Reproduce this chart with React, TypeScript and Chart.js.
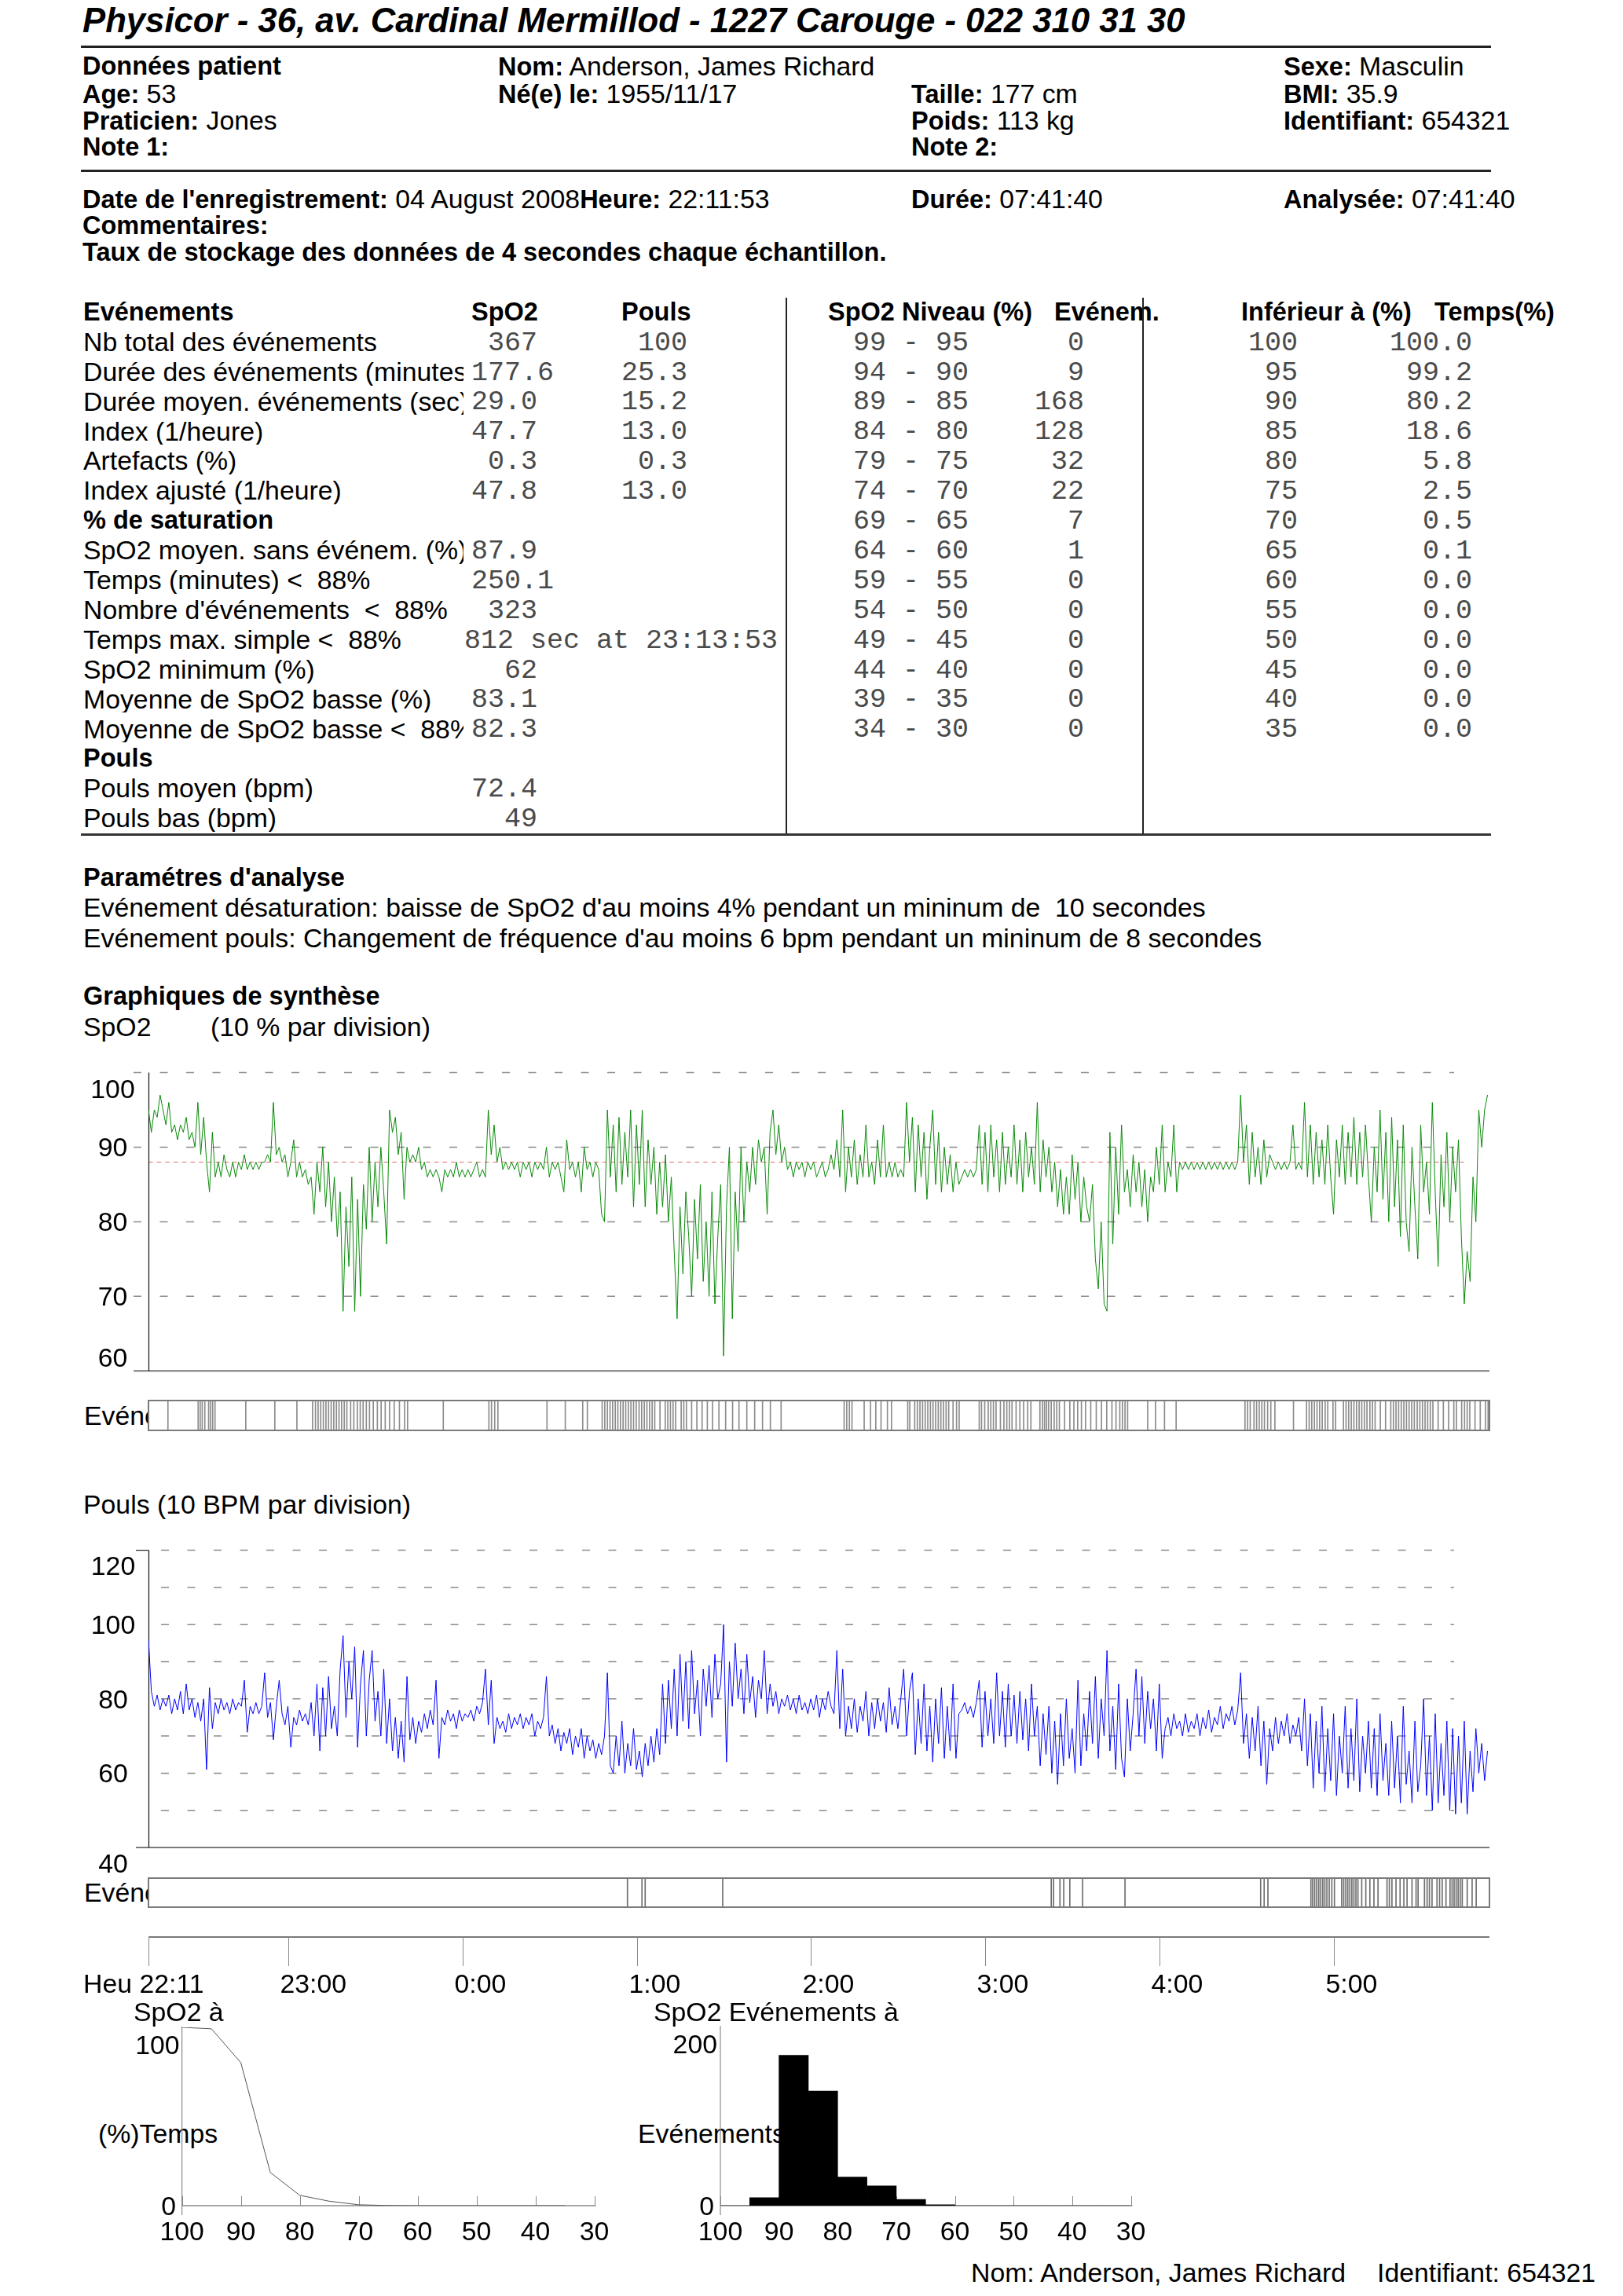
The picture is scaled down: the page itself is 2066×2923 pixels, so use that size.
import React, { useEffect, useRef } from "react";
import { Chart, registerables } from "chart.js";

Chart.register(...registerables);

const SANS = '"Liberation Sans", Arial, Helvetica, sans-serif';
const MONO = '"Liberation Mono", "Courier New", monospace';

// ---------------- recording ----------------
const startClock = "22:11:53";
const durationClock = "07:41:40";

// ---------------- SpO2 trend (%), one reading per minute, by hour ----------------
const spo2Hour1 = [95,92,95,94,97,95,93,96,92,93, 91,93,92,94,91,92,90,96,89,94, 88,84,92,86,88,86,89,87,86,88, 86,88,87,89,87,88,87,88,87,88, 88,89,88,96,89,90,88,89,86,88, 91,86,88,86,87,85,86,81,88,84];
const spo2Hour2 = [90,82,88,80,86,78,84,68,82,74, 86,68,83,70,85,79,90,80,88,82, 90,84,77,95,92,94,89,92,83,90, 88,89,88,90,87,88,86,87,86,87, 86,84,87,86,87,86,88,86,87,86, 87,86,87,88,86,87,86,95,89,93];
const spo2Hour3 = [88,90,87,88,87,88,87,88,86,88, 87,88,86,88,87,88,87,90,86,88, 87,88,86,84,91,87,88,86,88,84, 90,87,88,86,88,87,81,80,95,86, 93,84,94,85,92,86,95,82,93,85, 95,82,91,85,90,81,88,82,89,80];
const spo2Hour4 = [86,76,67,82,73,84,78,70,83,75, 85,72,80,70,84,69,78,85,62,82, 90,67,84,76,90,80,88,84,90,85, 91,88,90,81,92,95,89,93,88,90, 87,88,86,88,87,88,86,88,87,88, 86,87,88,86,87,89,87,91,86,95];
const spo2Hour5 = [84,90,86,91,85,89,86,93,86,88, 85,91,86,93,86,88,86,88,86,87, 86,96,88,94,84,93,86,92,83,90, 95,85,92,84,90,85,89,84,88,85, 86,87,86,87,86,87,93,85,92,84, 93,86,91,84,92,85,90,86,93,85];
const spo2Hour6 = [91,84,92,86,90,85,96,84,91,86, 90,84,88,82,87,81,86,81,89,83, 88,80,86,82,80,85,75,71,80,69, 68,92,77,90,81,93,84,87,82,89, 84,88,82,87,80,86,84,90,85,93, 84,88,86,93,84,88,87,88,87,88];
const spo2Hour7 = [87,88,87,88,87,88,87,88,87,88, 87,88,87,88,87,88,97,88,93,85, 92,86,90,85,91,86,89,88,87,88, 87,88,87,88,93,87,88,87,96,86, 93,85,92,86,91,85,93,86,81,91, 86,93,85,92,86,94,85,92,86,93];
const spo2Hour8 = [86,80,90,84,95,83,92,80,94,82, 91,78,93,80,76,90,82,75,93,84, 88,81,96,84,74,89,82,92,80,90, 84,91,78,69,76,72,86,80,95,90, 95,97];

// ---------------- Pulse trend (bpm), one reading per minute, by hour ----------------
const pulseHour1 = [96,82,78,81,77,80,78,81,76,80, 77,82,76,84,77,80,75,79,74,80, 61,83,72,79,76,80,77,79,76,80, 77,79,78,85,71,78,76,79,76,78, 87,75,79,69,78,85,76,73,78,67, 75,73,77,74,76,73,79,70,84,66];
const pulseHour2 = [83,70,86,72,78,70,88,97,75,90, 80,94,67,84,93,70,85,93,74,82, 70,88,68,80,66,75,64,74,63,86, 69,75,68,74,71,76,72,77,73,85, 64,75,73,77,74,76,72,77,74,76, 75,77,74,78,76,79,88,73,85,68];
const pulseHour3 = [75,72,74,71,76,72,75,73,76,72, 75,73,76,70,74,72,75,86,70,73, 68,72,66,71,68,72,65,70,67,72, 64,70,66,69,64,68,65,70,87,62, 60,70,62,74,60,68,62,72,61,66, 59,68,62,70,63,72,65,84,68,85];
const pulseHour4 = [72,88,70,92,74,90,72,93,76,85, 70,88,78,89,75,92,80,84,100,63, 90,78,95,80,88,76,92,79,86,75, 85,80,93,76,84,78,82,76,80,78, 81,77,80,76,81,77,79,76,80,77, 81,75,80,77,82,78,76,93,72,88];
const pulseHour5 = [70,78,72,80,71,78,74,82,70,79, 72,80,74,79,71,83,73,78,72,80, 88,70,82,87,65,80,68,84,66,78, 63,80,68,83,64,78,66,84,64,76, 77,79,76,78,75,79,85,67,82,70, 80,68,87,70,82,67,84,70,81,68];
const pulseHour6 = [82,69,80,66,84,70,78,62,76,65, 78,60,74,57,76,62,80,64,72,60, 85,62,76,66,82,68,86,64,80,70, 93,66,78,61,84,64,59,80,66,76, 88,70,86,68,82,72,80,66,84,64, 72,75,70,76,72,74,70,76,71,74];
const pulseHour7 = [72,76,70,75,72,77,71,75,73,78, 72,76,74,78,73,77,87,68,76,64, 75,66,78,62,74,57,72,66,75,68, 74,70,76,68,73,70,75,66,80,62, 76,56,74,60,78,55,72,58,76,54, 70,60,78,56,72,58,80,55,70,60];
const pulseHour8 = [74,56,72,54,76,58,68,54,74,56, 70,52,78,57,66,52,74,55,62,80, 54,70,50,76,52,68,54,74,50,72, 49,70,52,74,49,66,55,72,60,68, 58,66];

// ---------------- events (minutes from start of recording) ----------------
const spo2EventMinutes = [6.7,17.1,17.8,18.5,19.4,20.7,21.4,22.1,22.9,33.5,43.5,51.1,56.5,57.5,58.4,59.3,60.2,61.1,62.0,62.9,63.8,64.7,65.6,66.5,67.4,68.3,69.6,70.7,71.9,72.9,73.9,75.0,76.1,77.4,78.8,80.1,81.5,83.0,84.6,86.4,88.2,89.2,101.5,117.2,118.1,119.2,120.3,137.2,143.5,149.5,151.1,156.2,157.1,158.0,158.9,159.8,160.7,161.6,162.5,163.4,164.3,165.2,166.1,167.0,167.9,168.9,169.8,170.7,171.6,172.5,173.4,174.3,176.1,177.9,178.8,179.7,180.6,181.5,183.4,184.3,185.2,187.0,188.8,190.6,192.4,194.2,196.4,198.7,201.1,203.3,206.0,208.7,211.4,214.1,217.8,239.5,240.4,241.3,242.2,246.4,248.6,250.4,252.2,254.4,255.8,261.4,262.1,263.8,264.7,265.6,266.5,267.4,268.3,269.2,270.1,271.0,271.9,272.8,273.7,274.6,275.5,277.0,278.2,279.1,286.0,286.8,287.9,289.1,290.0,290.9,291.8,293.3,294.5,295.5,296.4,297.3,298.7,300.0,301.3,302.7,303.8,306.9,307.8,308.5,309.2,309.9,310.8,311.8,312.7,313.6,315.4,317.2,318.6,319.9,321.2,322.6,324.4,326.3,328.1,329.9,331.7,333.1,334.4,335.3,336.2,337.1,344.0,346.7,349.8,353.8,377.5,378.4,379.3,380.6,381.5,382.4,383.3,384.2,385.3,386.4,387.8,394.2,398.7,399.6,400.5,401.4,402.3,403.2,404.1,405.1,406.0,407.8,408.7,411.4,412.3,413.2,414.1,415.0,415.9,416.8,417.7,418.6,419.5,420.5,421.4,422.3,424.1,425.9,427.7,428.6,429.5,430.4,431.3,432.2,433.1,434.0,434.9,435.8,436.8,437.7,438.6,439.5,440.4,441.3,442.2,444.0,445.8,447.6,449.4,450.3,452.1,453.1,454.0,454.9,456.7,458.5,460.3,461.2];
const pulseEventMinutes = [164.9,169.9,171.0,197.7,310.8,311.6,313.8,315.1,317.2,321.6,336.2,382.9,384.1,385.4,400.2,400.8,401.5,402.2,402.9,403.6,404.3,405.0,405.7,406.5,407.4,408.3,410.8,411.5,412.2,412.9,413.6,414.3,415.0,415.7,416.4,417.7,419.1,420.5,421.9,423.3,426.4,427.2,428.1,429.5,430.9,432.2,433.3,435.0,436.4,437.1,439.3,440.2,441.0,441.9,443.6,444.5,445.4,446.7,448.1,448.8,449.5,450.2,450.9,451.6,452.3,454.0,455.7,457.1];

// ---------------- time axis ----------------
const timeTickClocks = ["22:11:53", "23:00", "0:00", "1:00", "2:00", "3:00", "4:00", "5:00"];
const timeTickLabels = ["Heu 22:11", "23:00", "0:00", "1:00", "2:00", "3:00", "4:00", "5:00"];

// ---------------- axis ticks ----------------
const spo2GridValues = [100, 90, 80, 70];
const spo2LabelValues = [100, 90, 80, 70, 60];
const spo2Threshold = 88;
const pulseGridValues = [120, 110, 100, 90, 80, 70, 60, 50];
const pulseLabelValues = [120, 100, 80, 60, 40];
const distXTicks = [100, 90, 80, 70, 60, 50, 40, 30];

// ---------------- tables ----------------
const eventRowLabels = ["Nb total des événements", "Durée des événements (minutes)", "Durée moyen. événements (sec)", "Index (1/heure)", "Artefacts (%)", "Index ajusté (1/heure)", "% de saturation", "SpO2 moyen. sans événem. (%)", "Temps (minutes) <  88%", "Nombre d'événements  <  88%", "Temps max. simple <  88%", "SpO2 minimum (%)", "Moyenne de SpO2 basse (%)", "Moyenne de SpO2 basse <  88%", "Pouls", "Pouls moyen (bpm)", "Pouls bas (bpm)"];
const headingRowIndexes = [6, 14];
const spo2Column = ["367", "177.6", "29.0", "47.7", "0.3", "47.8", "", "87.9", "250.1", "323", "812 sec at 23:13:53", "62", "83.1", "82.3", "", "72.4", "49"];
const poulsColumn = ["100", "25.3", "15.2", "13.0", "0.3", "13.0", "", "", "", "", "", "", "", "", "", "", ""];

const levelHigh = [99, 94, 89, 84, 79, 74, 69, 64, 59, 54, 49, 44, 39, 34];
const levelLow = [95, 90, 85, 80, 75, 70, 65, 60, 55, 50, 45, 40, 35, 30];
const levelEvents = [0, 9, 168, 128, 32, 22, 7, 1, 0, 0, 0, 0, 0, 0];
const belowLevel = [100, 95, 90, 85, 80, 75, 70, 65, 60, 55, 50, 45, 40, 35];
const belowTimePct = [100.0, 99.2, 80.2, 18.6, 5.8, 2.5, 0.5, 0.1, 0.0, 0.0, 0.0, 0.0, 0.0, 0.0];

// ---------------- derived ----------------
const clockToMin = (c: string) => {
  const [h, m, s] = c.split(":");
  return Number(h) * 60 + Number(m) + (s ? Number(s) / 60 : 0);
};
const START = clockToMin(startClock);
const DURATION = clockToMin(durationClock);
const tickMinutes = timeTickClocks.map((c) => (clockToMin(c) - START + 1440) % 1440);
const spo2All = [...spo2Hour1, ...spo2Hour2, ...spo2Hour3, ...spo2Hour4, ...spo2Hour5, ...spo2Hour6, ...spo2Hour7, ...spo2Hour8];
const pulseAll = [...pulseHour1, ...pulseHour2, ...pulseHour3, ...pulseHour4, ...pulseHour5, ...pulseHour6, ...pulseHour7, ...pulseHour8];

const PAGE_W = 2066;
const PLOT_L = 189;
const PLOT_R = 1896;
const FS = 33.8;
const BOLD_SCALE = 0.962;
const LABEL_FONT = `${FS}px ${SANS}`;

// ---------------- plugins ----------------
function trendDeco(o: any) {
  return {
    id: "trendDeco",
    beforeDatasetsDraw(chart: any) {
      const { ctx, chartArea: a } = chart;
      const y = chart.scales.y;
      ctx.save();
      ctx.lineWidth = 1.5;
      ctx.strokeStyle = "#8c8c8c";
      ctx.setLineDash([10, 23.5]);
      for (const v of o.gridValues) {
        const py = y.getPixelForValue(v);
        ctx.beginPath();
        ctx.moveTo(o.gridFrom, py);
        ctx.lineTo(o.gridTo, py);
        ctx.stroke();
      }
      if (o.refValue !== undefined) {
        const py = y.getPixelForValue(o.refValue);
        ctx.strokeStyle = "#e46a6a";
        ctx.lineWidth = 1;
        ctx.setLineDash([5.5, 5.2]);
        ctx.beginPath();
        ctx.moveTo(a.left, py);
        ctx.lineTo(o.refTo, py);
        ctx.stroke();
      }
      ctx.setLineDash([]);
      ctx.strokeStyle = "#7a7a7a";
      ctx.lineWidth = 2;
      ctx.beginPath();
      ctx.moveTo(o.tickFrom, a.bottom);
      ctx.lineTo(a.right, a.bottom);
      ctx.stroke();
      if (o.topTick) {
        ctx.strokeStyle = "#222";
        ctx.lineWidth = 1.2;
        ctx.beginPath();
        ctx.moveTo(o.tickFrom, a.top);
        ctx.lineTo(a.left, a.top);
        ctx.stroke();
      }
      ctx.strokeStyle = "#111";
      ctx.lineWidth = 1.2;
      ctx.beginPath();
      ctx.moveTo(a.left + 0.5, a.top);
      ctx.lineTo(a.left + 0.5, a.bottom);
      ctx.stroke();
      ctx.fillStyle = "#000";
      ctx.font = LABEL_FONT;
      ctx.textAlign = "center";
      ctx.textBaseline = "alphabetic";
      for (const v of o.labelValues) {
        const py = y.getPixelForValue(v) + (o.labelShift[v] || 0);
        ctx.fillText(String(v), o.labelCenterX, py + 12);
      }
      ctx.restore();
    },
  };
}

const stripDeco = {
  id: "stripDeco",
  afterDatasetsDraw(chart: any) {
    const { ctx, chartArea: a } = chart;
    ctx.save();
    ctx.strokeStyle = "#7a7a7a";
    ctx.lineWidth = 2;
    ctx.strokeRect(a.left, a.top, a.right - a.left, a.bottom - a.top);
    ctx.restore();
  },
};

const timeAxisDeco = {
  id: "timeAxisDeco",
  afterDraw(chart: any) {
    const { ctx, chartArea: a } = chart;
    const x = chart.scales.x;
    ctx.save();
    ctx.strokeStyle = "#7a7a7a";
    ctx.lineWidth = 2;
    ctx.beginPath();
    ctx.moveTo(a.left, a.top);
    ctx.lineTo(a.right, a.top);
    ctx.stroke();
    ctx.lineWidth = 1;
    ctx.strokeStyle = "#8a8a8a";
    ctx.font = LABEL_FONT;
    ctx.fillStyle = "#000";
    ctx.textBaseline = "alphabetic";
    tickMinutes.forEach((m, i) => {
      const px = Math.round(x.getPixelForValue(m)) + 0.5;
      ctx.beginPath();
      ctx.moveTo(px, a.top);
      ctx.lineTo(px, a.top + 37);
      ctx.stroke();
      const label = timeTickLabels[i];
      if (i === 0) {
        const last = label.split(" ").pop() as string;
        ctx.textAlign = "right";
        ctx.fillText(label, px - 12 + ctx.measureText(last).width, a.top + 71);
      } else {
        ctx.textAlign = "left";
        ctx.fillText(label, px - 11, a.top + 71);
      }
    });
    ctx.restore();
  },
};

function distDeco(o: any) {
  return {
    id: "distDeco",
    beforeDatasetsDraw(chart: any) {
      const { ctx, chartArea: a } = chart;
      const x = chart.scales.x;
      const y = chart.scales.y;
      ctx.save();
      ctx.strokeStyle = "#8a8a8a";
      ctx.lineWidth = 1.2;
      ctx.beginPath();
      ctx.moveTo(a.left, a.top - 1);
      ctx.lineTo(a.left, a.bottom + 12);
      ctx.stroke();
      ctx.lineWidth = 1.6;
      ctx.beginPath();
      ctx.moveTo(a.left, a.bottom);
      ctx.lineTo(a.right + 2, a.bottom);
      ctx.stroke();
      ctx.lineWidth = 1;
      for (const v of o.xTicks) {
        const px = Math.round(x.getPixelForValue(v)) + 0.5;
        ctx.beginPath();
        ctx.moveTo(px, a.bottom - 12);
        ctx.lineTo(px, a.bottom);
        ctx.stroke();
      }
      ctx.fillStyle = "#000";
      ctx.font = LABEL_FONT;
      ctx.textBaseline = "alphabetic";
      ctx.textAlign = "center";
      for (const v of o.xTicks) {
        ctx.fillText(String(v), x.getPixelForValue(v), a.bottom + 44);
      }
      ctx.textAlign = "right";
      ctx.fillText(String(o.yMax), a.left - o.maxGap, y.getPixelForValue(o.yMax) + 22 + 12);
      ctx.fillText("0", a.left - o.zeroGap, y.getPixelForValue(0) + 12);
      ctx.restore();
    },
  };
}

// ---------------- chart configs ----------------
const baseOptions = (padding: any, xs: any, ys: any) => ({
  responsive: false,
  maintainAspectRatio: false,
  animation: false,
  devicePixelRatio: 1,
  events: [],
  layout: { padding },
  plugins: { legend: { display: false }, tooltip: { enabled: false }, title: { display: false } },
  scales: { x: { display: false, ...xs }, y: { display: false, ...ys } },
});

const spo2Config = () => ({
  type: "line",
  data: {
    datasets: [{
      data: spo2All.map((v, i) => ({ x: i, y: v })),
      borderColor: "#0a8a0a",
      borderWidth: 1,
      pointRadius: 0,
      tension: 0,
      fill: false,
    }],
  },
  options: baseOptions({ left: PLOT_L, right: PAGE_W - PLOT_R, top: 25.5, bottom: 14.7 },
    { type: "linear", min: 0, max: DURATION }, { type: "linear", min: 60, max: 100 }),
  plugins: [trendDeco({
    gridValues: spo2GridValues, gridFrom: 170, gridTo: 1851,
    refValue: spo2Threshold, refTo: 1867,
    labelValues: spo2LabelValues, labelShift: { 100: 20, 60: -17 }, labelCenterX: 143.5,
    tickFrom: 170, topTick: false,
  })],
});

const pulseConfig = () => ({
  type: "line",
  data: {
    datasets: [{
      data: pulseAll.map((v, i) => ({ x: i, y: v })),
      borderColor: "#0000ff",
      borderWidth: 1,
      pointRadius: 0,
      tension: 0,
      fill: false,
    }],
  },
  options: baseOptions({ left: PLOT_L, right: PAGE_W - PLOT_R, top: 23.6, bottom: 38 },
    { type: "linear", min: 0, max: DURATION }, { type: "linear", min: 40, max: 120 }),
  plugins: [trendDeco({
    gridValues: pulseGridValues, gridFrom: 205, gridTo: 1851,
    labelValues: pulseLabelValues, labelShift: { 120: 19, 40: 20 }, labelCenterX: 144,
    tickFrom: 173, topTick: true,
  })],
});

const stripConfig = (minutes: number[], color: string, pad: any) => () => ({
  type: "bar",
  data: {
    datasets: [{
      data: minutes.map((m) => ({ x: m, y: 1 })),
      backgroundColor: color,
      borderWidth: 0,
      barThickness: 1,
    }],
  },
  options: baseOptions({ left: PLOT_L, right: PAGE_W - PLOT_R, ...pad },
    { type: "linear", min: 0, max: DURATION, offset: false }, { type: "linear", min: 0, max: 1 }),
  plugins: [stripDeco],
});

const timeConfig = () => ({
  type: "line",
  data: { datasets: [{ data: [] as any[] }] },
  options: baseOptions({ left: PLOT_L, right: PAGE_W - PLOT_R, top: 11, bottom: 0 },
    { type: "linear", min: 0, max: DURATION }, { type: "linear", min: 0, max: 1 }),
  plugins: [timeAxisDeco],
});

const cumConfig = () => ({
  type: "line",
  data: {
    datasets: [{
      data: belowLevel.map((l, i) => ({ x: l, y: belowTimePct[i] })),
      borderColor: "#555",
      borderWidth: 1,
      pointRadius: 0,
      tension: 0,
      fill: false,
    }],
  },
  options: baseOptions({ left: 231.6, right: 800 - 756.5, top: 11, bottom: 62 },
    { type: "linear", min: 30, max: 100, reverse: true }, { type: "linear", min: 0, max: 100 }),
  plugins: [distDeco({ xTicks: distXTicks, yMax: 100, maxGap: 3, zeroGap: 7.5 })],
});

const histConfig = () => ({
  type: "bar",
  data: {
    datasets: [{
      data: levelHigh.map((h, i) => ({ x: (h + 1 + levelLow[i]) / 2, y: levelEvents[i] })),
      backgroundColor: "#000",
      borderWidth: 0,
      barPercentage: 1,
      categoryPercentage: 1,
    }],
  },
  options: baseOptions({ left: 117, right: 800 - 639.5, top: 10, bottom: 62 },
    { type: "linear", min: 30, max: 100, reverse: true, offset: false }, { type: "linear", min: 0, max: 200 }),
  plugins: [distDeco({ xTicks: distXTicks, yMax: 200, maxGap: 4, zeroGap: 8 })],
});

// ---------------- components ----------------
function ChartBox({ left, top, width, height, build }: any) {
  const ref = useRef<HTMLCanvasElement>(null);
  useEffect(() => {
    const chart = new Chart(ref.current as HTMLCanvasElement, build() as any);
    return () => chart.destroy();
  }, []);
  return (
    <canvas
      ref={ref}
      width={width}
      height={height}
      style={{ position: "absolute", left, top, width, height }}
    />
  );
}

const B = ({ children }: any) => (
  <span style={{ fontWeight: 700, fontSize: `${BOLD_SCALE}em` }}>{children}</span>
);

const T = ({ x, y, children, size = FS, bold = false, italic = false, mono = false, w, color = "#000" }: any) => {
  const fs = bold && !italic ? size * BOLD_SCALE : size;
  return (
    <div
      style={{
        position: "absolute",
        left: x,
        top: y - (mono ? 0.7665 : 0.8465) * size,
        fontFamily: mono ? MONO : SANS,
        fontSize: fs,
        lineHeight: `${size}px`,
        fontWeight: bold ? 700 : 400,
        fontStyle: italic ? "italic" : "normal",
        whiteSpace: "pre",
        color,
        width: w,
        overflow: w ? "hidden" : "visible",
      }}
    >
      {children}
    </div>
  );
};

const L = ({ x, y, w, h, c = "#222" }: any) => (
  <div style={{ position: "absolute", left: x, top: y, width: w, height: h, background: c }} />
);

const rowY = (i: number) => 447.5 + 37.9 * i;
const MONO_COLOR = "#4a4a4a";

export default function App() {
  return (
    <div style={{ position: "absolute", left: 0, top: 0, width: 2066, height: 2923, background: "#fff", overflow: "hidden" }}>
      {/* Title */}
      <T x={105} y={41} size={43.7} bold italic>Physicor - 36, av. Cardinal Mermillod - 1227 Carouge - 022 310 31 30</T>
      <L x={103} y={58} w={1795} h={3} />

      {/* Patient block */}
      <T x={105} y={97} bold>Données patient</T>
      <T x={105} y={131.3}><B>Age:</B> 53</T>
      <T x={105} y={165.6}><B>Praticien:</B> Jones</T>
      <T x={105} y={200} bold>Note 1:</T>
      <T x={634} y={97}><B>Nom:</B> Anderson, James Richard</T>
      <T x={634} y={131.3}><B>Né(e) le:</B> 1955/11/17</T>
      <T x={1160} y={131.3}><B>Taille:</B> 177 cm</T>
      <T x={1160} y={165.6}><B>Poids:</B> 113 kg</T>
      <T x={1160} y={200} bold>Note 2:</T>
      <T x={1634} y={97}><B>Sexe:</B> Masculin</T>
      <T x={1634} y={131.3}><B>BMI:</B> 35.9</T>
      <T x={1634} y={165.6}><B>Identifiant:</B> 654321</T>
      <L x={103} y={216} w={1795} h={3} />

      <T x={105} y={266}><B>Date de l'enregistrement:</B> 04 August 2008<B>Heure:</B> 22:11:53</T>
      <T x={1160} y={266}><B>Durée:</B> 07:41:40</T>
      <T x={1634} y={266}><B>Analysée:</B> 07:41:40</T>
      <T x={105} y={300} bold>Commentaires:</T>
      <T x={105} y={334} bold>Taux de stockage des données de 4 secondes chaque échantillon.</T>

      {/* Events table */}
      <T x={106} y={410} bold>Evénements</T>
      <T x={600} y={410} bold>SpO2</T>
      <T x={791} y={410} bold>Pouls</T>
      {eventRowLabels.map((lab, i) => (
        <T key={"l" + i} x={106} y={rowY(i)} bold={headingRowIndexes.includes(i)} w={headingRowIndexes.includes(i) ? undefined : 484}>{lab}</T>
      ))}
      {spo2Column.map((v, i) => v ? (
        <T key={"s" + i} x={v.length > 5 ? 591 : 600} y={rowY(i) - 1} mono size={35} color={MONO_COLOR}>{v.length > 5 ? v : v.padStart(4)}</T>
      ) : null)}
      {poulsColumn.map((v, i) => v ? (
        <T key={"p" + i} x={791} y={rowY(i) - 1} mono size={35} color={MONO_COLOR}>{v.padStart(4)}</T>
      ) : null)}

      <L x={1000} y={379} w={2} h={683} />
      <T x={1054} y={410} bold>SpO2 Niveau (%)</T>
      <T x={1342} y={410} bold>Evénem.</T>
      <L x={1454} y={379} w={2} h={683} />
      <T x={1580} y={410} bold>Inférieur à (%)</T>
      <T x={1826} y={410} bold>Temps(%)</T>
      {levelHigh.map((h, i) => (
        <React.Fragment key={"n" + i}>
          <T x={1086} y={rowY(i) - 1} mono size={35} color={MONO_COLOR}>{`${h} - ${levelLow[i]}`}</T>
          <T x={1317} y={rowY(i) - 1} mono size={35} color={MONO_COLOR}>{String(levelEvents[i]).padStart(3)}</T>
          <T x={1589} y={rowY(i) - 1} mono size={35} color={MONO_COLOR}>{String(belowLevel[i]).padStart(3)}</T>
          <T x={1769} y={rowY(i) - 1} mono size={35} color={MONO_COLOR}>{belowTimePct[i].toFixed(1).padStart(5)}</T>
        </React.Fragment>
      ))}
      <L x={103} y={1061} w={1795} h={3} c="#333" />

      {/* Parameters */}
      <T x={106} y={1130} bold>Paramétres d'analyse</T>
      <T x={106} y={1168}>Evénement désaturation: baisse de SpO2 d'au moins 4% pendant un mininum de  10 secondes</T>
      <T x={106} y={1207}>Evénement pouls: Changement de fréquence d'au moins 6 bpm pendant un mininum de 8 secondes</T>
      <T x={106} y={1281} bold>Graphiques de synthèse</T>
      <T x={106} y={1320}>SpO2</T>
      <T x={268} y={1320}>(10 % par division)</T>

      {/* SpO2 trend */}
      <ChartBox left={0} top={1340} width={PAGE_W} height={420} build={spo2Config} />
      <T x={107} y={1815} w={82}>Evénements</T>
      <ChartBox left={0} top={1775} width={PAGE_W} height={55} build={stripConfig(spo2EventMinutes, "#8c8c8c", { top: 8, bottom: 9 })} />

      {/* Pulse trend */}
      <T x={106} y={1928}>Pouls (10 BPM par division)</T>
      <ChartBox left={0} top={1950} width={PAGE_W} height={440} build={pulseConfig} />
      <T x={107} y={2422} w={82}>Evénements</T>
      <ChartBox left={0} top={2383} width={PAGE_W} height={55} build={stripConfig(pulseEventMinutes, "#6e6e6e", { top: 8, bottom: 10 })} />

      {/* Time axis */}
      <ChartBox left={0} top={2455} width={PAGE_W} height={100} build={timeConfig} />

      {/* Distribution charts */}
      <T x={170} y={2574}>SpO2 à</T>
      <T x={125} y={2729}>(%)Temps</T>
      <ChartBox left={0} top={2570} width={800} height={300} build={cumConfig} />

      <T x={832} y={2574}>SpO2 Evénements à</T>
      <T x={812} y={2729}>Evénements</T>
      <ChartBox left={800} top={2570} width={800} height={300} build={histConfig} />

      {/* Footer */}
      <T x={1236} y={2906}>Nom: Anderson, James Richard</T>
      <T x={1753} y={2906}>Identifiant: 654321</T>
    </div>
  );
}
